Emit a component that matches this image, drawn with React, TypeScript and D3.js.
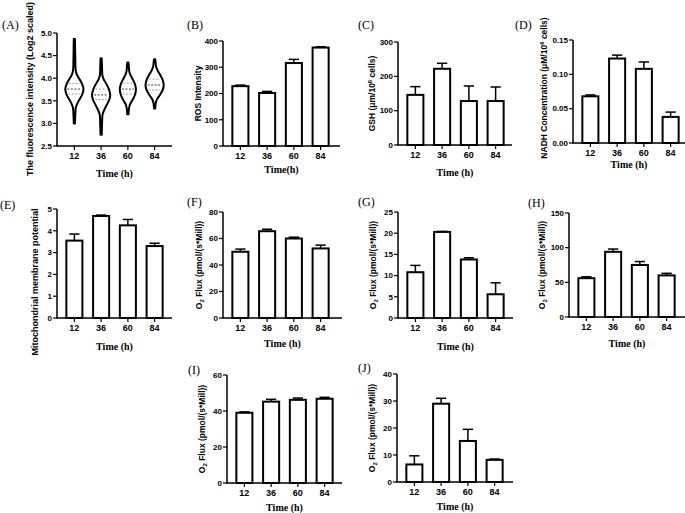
import React from 'react';
import * as d3 from 'd3';

// x categories shared by every panel
const times = ['12', '36', '60', '84'];

// (A) violin outlines: [log2 value, relative half width]
const violin12 = [[3.0, 0], [3.2, 0.04], [3.35, 0.1], [3.45, 0.3], [3.55, 0.6], [3.65, 0.88], [3.76, 1], [3.88, 0.82], [3.98, 0.52], [4.08, 0.22], [4.18, 0.08], [4.4, 0.04], [4.87, 0]];
const violin36 = [[2.75, 0], [3.0, 0.04], [3.2, 0.1], [3.3, 0.3], [3.42, 0.62], [3.53, 0.9], [3.63, 1], [3.76, 0.84], [3.88, 0.52], [3.98, 0.22], [4.06, 0.08], [4.2, 0.04], [4.44, 0]];
const violin60 = [[3.2, 0], [3.32, 0.06], [3.42, 0.2], [3.52, 0.55], [3.64, 0.88], [3.76, 1], [3.88, 0.84], [3.98, 0.55], [4.08, 0.24], [4.15, 0.1], [4.25, 0.05], [4.35, 0]];
const violin84 = [[3.33, 0], [3.45, 0.06], [3.53, 0.2], [3.63, 0.55], [3.74, 0.88], [3.85, 1], [3.97, 0.86], [4.08, 0.56], [4.18, 0.26], [4.26, 0.1], [4.34, 0.05], [4.42, 0]];
const violins = [violin12, violin36, violin60, violin84];
const violinScale = [1, 1, 0.88, 1];
const quartiles = [[3.65, 3.76, 3.88], [3.53, 3.63, 3.76], [3.65, 3.76, 3.89], [3.74, 3.85, 3.98]];

// (B) - (J) means and SD (upper bar only)
const rosMean = [228, 202, 316, 375];
const rosErr = [4, 6, 14, 3];
const gshMean = [146, 222, 128, 128];
const gshErr = [24, 16, 44, 41];
const nadhMean = [0.068, 0.123, 0.108, 0.038];
const nadhErr = [0.002, 0.005, 0.01, 0.007];
const mmpMean = [3.55, 4.68, 4.25, 3.3];
const mmpErr = [0.3, 0.04, 0.27, 0.13];
const fMean = [50, 65.5, 60, 52.5];
const fErr = [2, 1.5, 1, 2.5];
const gMean = [10.8, 20.3, 13.8, 5.6];
const gErr = [1.6, 0.12, 0.4, 2.7];
const hMean = [56, 94, 75, 60];
const hErr = [2, 4, 5, 3];
const iMean = [39, 45.2, 46.2, 46.8];
const iErr = [0.5, 1.3, 1, 0.8];
const jMean = [6.5, 29, 15.2, 8.2];
const jErr = [3.2, 2, 4.3, 0.3];

const SANS = 'Liberation Sans, Arial, sans-serif';
const SERIF = 'Liberation Serif, Times New Roman, serif';

type Layout = {
  x0: number; xEnd: number; yTop: number; yBot: number;
  domain: [number, number]; step: number; fmt: string;
  tag: string; tagX: number; tagY: number;
  labelX: number; labelY?: number; labelSize?: number;
  xTitle: string; titleDy: number;
};

const YLabel = ({ x, y, size, children }: { x: number; y: number; size: number; children: React.ReactNode }) => (
  <text transform={`translate(${x},${y}) rotate(-90)`} textAnchor="middle" dominantBaseline="middle"
    fontFamily={SANS} fontWeight="bold" fontSize={size}>{children}</text>
);

const Frame = ({ l, label, children }: { l: Layout; label: React.ReactNode; children: (x: d3.ScaleBand<string>, y: d3.ScaleLinear<number, number>) => React.ReactNode }) => {
  const x = d3.scaleBand<string>().domain(times).range([l.x0 + 4, l.x0 + 111]).paddingInner(0.4).paddingOuter(0.2);
  const y = d3.scaleLinear().domain(l.domain).range([l.yBot, l.yTop]);
  const ticks = d3.range(l.domain[0], l.domain[1] + l.step / 2, l.step);
  const f = d3.format(l.fmt);
  return (
    <g>
      <text x={l.tagX} y={l.tagY} fontFamily={SERIF} fontSize={12}>{l.tag}</text>
      {children(x, y)}
      <line x1={l.x0} x2={l.x0} y1={l.yTop} y2={l.yBot} stroke="#000" strokeWidth={1.5} />
      <line x1={l.x0 - 0.75} x2={l.xEnd} y1={l.yBot} y2={l.yBot} stroke="#000" strokeWidth={1.5} />
      {ticks.map((t) => (
        <g key={t}>
          <line x1={l.x0 - 4} x2={l.x0} y1={y(t)} y2={y(t)} stroke="#000" strokeWidth={1.2} />
          <text x={l.x0 - 5} y={y(t)} dy="0.35em" textAnchor="end" fontFamily={SANS} fontWeight="bold" fontSize={8}>{f(t)}</text>
        </g>
      ))}
      {times.map((t) => (
        <g key={t}>
          <line x1={x(t)! + x.bandwidth() / 2} x2={x(t)! + x.bandwidth() / 2} y1={l.yBot} y2={l.yBot + 4} stroke="#000" strokeWidth={1.2} />
          <text x={x(t)! + x.bandwidth() / 2} y={l.yBot + 10} dy="0.35em" textAnchor="middle" fontFamily={SANS} fontWeight="bold" fontSize={9}>{t}</text>
        </g>
      ))}
      <text x={(l.x0 + l.xEnd) / 2} y={l.yBot + l.titleDy} dy="0.35em" textAnchor="middle" fontFamily={SERIF} fontWeight="bold" fontSize={10}>{l.xTitle}</text>
      <YLabel x={l.labelX} y={l.labelY ?? (l.yTop + l.yBot) / 2} size={l.labelSize ?? 8.5}>{label}</YLabel>
    </g>
  );
};

const BarPanel = ({ l, mean, err, label }: { l: Layout; mean: number[]; err: number[]; label: React.ReactNode }) => (
  <Frame l={l} label={label}>
    {(x, y) => times.map((t, i) => {
      const cx = x(t)! + x.bandwidth() / 2;
      const cap = x.bandwidth() * 0.32;
      return (
        <g key={t}>
          <line x1={cx} x2={cx} y1={y(mean[i])} y2={y(mean[i] + err[i])} stroke="#000" strokeWidth={1.5} />
          <line x1={cx - cap} x2={cx + cap} y1={y(mean[i] + err[i])} y2={y(mean[i] + err[i])} stroke="#000" strokeWidth={1.5} />
          <rect x={x(t)!} y={y(mean[i])} width={x.bandwidth()} height={l.yBot - y(mean[i])} fill="#fff" stroke="#000" strokeWidth={2} />
        </g>
      );
    })}
  </Frame>
);

const ViolinPanel = ({ l, label }: { l: Layout; label: React.ReactNode }) => (
  <Frame l={l} label={label}>
    {(x, y) => times.map((t, i) => {
      const cx = x(t)! + x.bandwidth() / 2;
      const half = 8.5 * violinScale[i];
      const pts = violins[i];
      const area = d3.area<number[]>()
        .y((d) => y(d[0]))
        .x0((d) => cx - d[1] * half - 0.6)
        .x1((d) => cx + d[1] * half + 0.6)
        .curve(d3.curveCatmullRom);
      const wAt = d3.scaleLinear().domain(pts.map((d) => d[0])).range(pts.map((d) => d[1]));
      return (
        <g key={t}>
          <path d={area(pts) ?? ''} fill="#fff" stroke="#000" strokeWidth={2} strokeLinejoin="round" />
          {quartiles[i].map((q, k) => {
            const w = wAt(q) * half - 1.5;
            return <line key={k} x1={cx - w} x2={cx + w} y1={y(q)} y2={y(q)}
              stroke={k === 1 ? '#222' : '#999'} strokeWidth={0.9} strokeDasharray="2,1.5" />;
          })}
        </g>
      );
    })}
  </Frame>
);

const sub = (s: string) => <tspan fontSize={6} dy={2}>{s}</tspan>;
const sup = (s: string) => <tspan fontSize={6} dy={-3}>{s}</tspan>;
const o2Label = (<>O{sub('2')}<tspan dy={-2}> Flux (pmol/(s*Mill))</tspan></>);

const layouts: Record<string, Layout> = {
  A: { x0: 57, xEnd: 172, yTop: 33, yBot: 146, domain: [2.5, 5], step: 0.5, fmt: '.1f', tag: '(A)', tagX: 2, tagY: 29, labelX: 31, labelY: 89, labelSize: 9, xTitle: 'Time (h)', titleDy: 27 },
  B: { x0: 223, xEnd: 340, yTop: 41, yBot: 146, domain: [0, 400], step: 100, fmt: 'd', tag: '(B)', tagX: 187, tagY: 29, labelX: 199, xTitle: 'Time(h)', titleDy: 23 },
  C: { x0: 398, xEnd: 512, yTop: 42, yBot: 145, domain: [0, 300], step: 100, fmt: 'd', tag: '(C)', tagX: 358, tagY: 29, labelX: 373, xTitle: 'Time (h)', titleDy: 27 },
  D: { x0: 573, xEnd: 685, yTop: 40, yBot: 143, domain: [0, 0.15], step: 0.05, fmt: '.2f', tag: '(D)', tagX: 515, tagY: 29, labelX: 545, labelY: 88, xTitle: 'Time (h)', titleDy: 21 },
  E: { x0: 57, xEnd: 172, yTop: 209, yBot: 318, domain: [0, 5], step: 1, fmt: 'd', tag: '(E)', tagX: 0, tagY: 209, labelX: 36, labelY: 282, labelSize: 9, xTitle: 'Time (h)', titleDy: 28 },
  F: { x0: 223, xEnd: 342, yTop: 212, yBot: 318, domain: [0, 80], step: 20, fmt: 'd', tag: '(F)', tagX: 187, tagY: 206, labelX: 200, xTitle: 'Time (h)', titleDy: 25 },
  G: { x0: 398, xEnd: 513, yTop: 212, yBot: 318, domain: [0, 25], step: 5, fmt: 'd', tag: '(G)', tagX: 358, tagY: 206, labelX: 374, xTitle: 'Time (h)', titleDy: 28 },
  H: { x0: 569, xEnd: 685, yTop: 213, yBot: 317, domain: [0, 150], step: 50, fmt: 'd', tag: '(H)', tagX: 528, tagY: 207, labelX: 543, xTitle: 'Time (h)', titleDy: 26 },
  I: { x0: 227, xEnd: 342, yTop: 375, yBot: 483, domain: [0, 60], step: 20, fmt: 'd', tag: '(I)', tagX: 188, tagY: 374, labelX: 203, xTitle: 'Time (h)', titleDy: 24 },
  J: { x0: 397, xEnd: 513, yTop: 374, yBot: 482, domain: [0, 40], step: 10, fmt: 'd', tag: '(J)', tagX: 358, tagY: 372, labelX: 373, xTitle: 'Time (h)', titleDy: 24 },
};

export default function App() {
  return (
    <div style={{ position: 'absolute', left: 0, top: 0 }}>
      <svg width={685} height={513} style={{ display: 'block', background: '#fff' }}>
        <ViolinPanel l={layouts.A} label="The fluorescence intensity (Log2 scaled)" />
        <BarPanel l={layouts.B} mean={rosMean} err={rosErr} label="ROS Intensity" />
        <BarPanel l={layouts.C} mean={gshMean} err={gshErr} label={<>GSH (μm/10{sup('6')}<tspan dy={3}> cells)</tspan></>} />
        <BarPanel l={layouts.D} mean={nadhMean} err={nadhErr} label={<>NADH Concentration (μM/10{sup('6')}<tspan dy={3}> cells)</tspan></>} />
        <BarPanel l={layouts.E} mean={mmpMean} err={mmpErr} label="Mitochondrial membrane potential" />
        <BarPanel l={layouts.F} mean={fMean} err={fErr} label={o2Label} />
        <BarPanel l={layouts.G} mean={gMean} err={gErr} label={o2Label} />
        <BarPanel l={layouts.H} mean={hMean} err={hErr} label={o2Label} />
        <BarPanel l={layouts.I} mean={iMean} err={iErr} label={o2Label} />
        <BarPanel l={layouts.J} mean={jMean} err={jErr} label={o2Label} />
      </svg>
    </div>
  );
}
